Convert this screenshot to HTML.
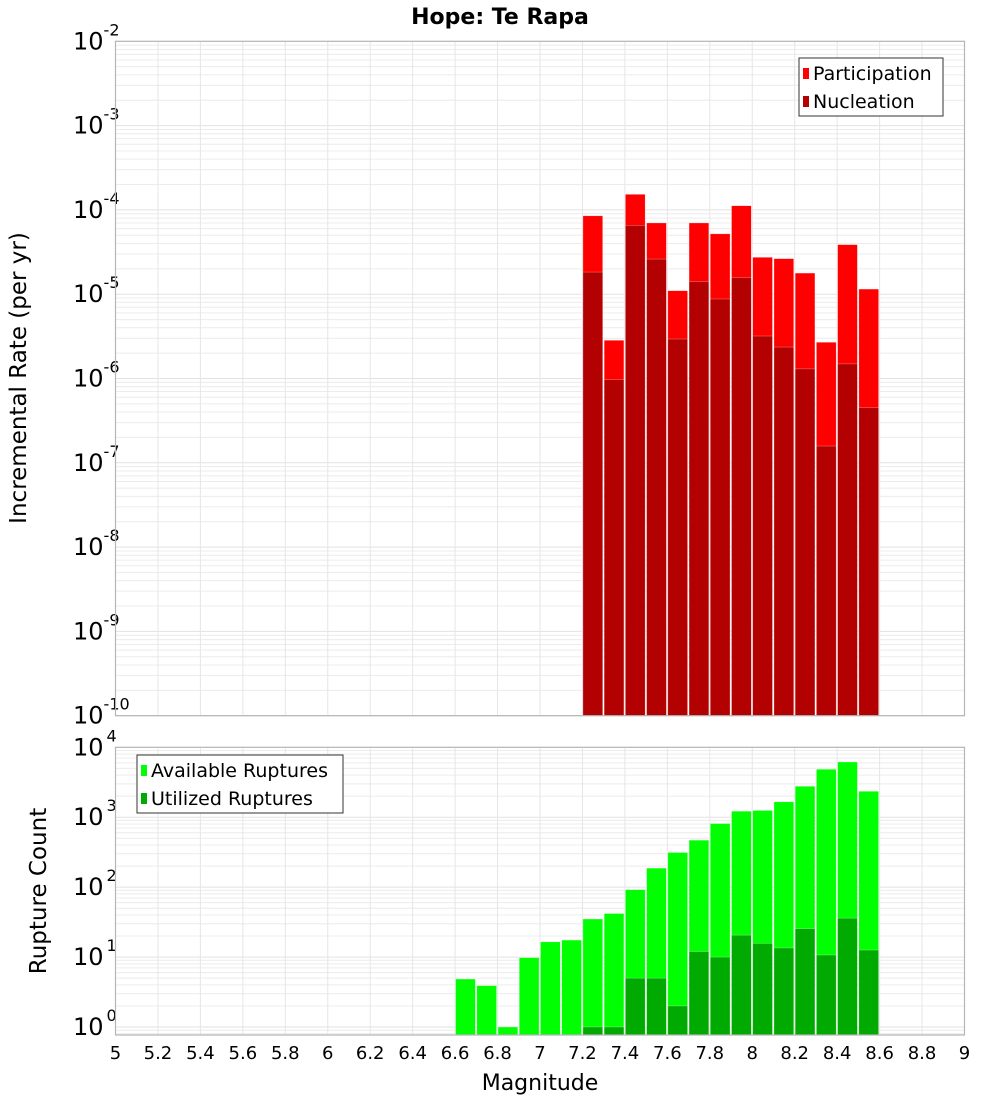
<!DOCTYPE html>
<html><head><meta charset="utf-8"><style>
html,body{margin:0;padding:0;background:#fff;}
svg{display:block;font-family:"DejaVu Sans","Liberation Sans",sans-serif;}
</style></head><body>
<svg id="chart" width="1000" height="1100" viewBox="0 0 1000 1100" xmlns="http://www.w3.org/2000/svg">
<text x="500" y="24" text-anchor="middle" font-size="22" font-weight="bold">Hope: Te Rapa</text>
<g id="top"></g>
<g id="bot"></g>
<text transform="translate(26,378) rotate(-90)" text-anchor="middle" font-size="23">Incremental Rate (per yr)</text>
<text transform="translate(46,891) rotate(-90)" text-anchor="middle" font-size="23">Rupture Count</text>
<text x="540" y="1090" text-anchor="middle" font-size="22">Magnitude</text>
</svg>
<script>
const rateMags = [7.25,7.35,7.45,7.55,7.65,7.75,7.85,7.95,8.05,8.15,8.25,8.35,8.45,8.55];
const participation = [8.5e-5,2.84e-6,1.53e-4,7.0e-5,1.1e-5,7.0e-5,5.2e-5,1.12e-4,2.74e-5,2.64e-5,1.78e-5,2.69e-6,3.87e-5,1.15e-5];
const nucleation = [1.83e-5,9.7e-7,6.56e-5,2.61e-5,2.94e-6,1.41e-5,8.77e-6,1.57e-5,3.19e-6,2.36e-6,1.30e-6,1.58e-7,1.49e-6,4.5e-7];
const countMags = [6.65,6.75,6.85,6.95,7.05,7.15,7.25,7.35,7.45,7.55,7.65,7.75,7.85,7.95,8.05,8.15,8.25,8.35,8.45,8.55];
const available = [4.85,3.9,1,9.8,16.5,17.5,35,42,92,187,313,470,813,1220,1250,1660,2770,4850,6170,2350];
const utilized = [0,0,0,0,0,0,1,1,5,5,2,12,10,20.6,15.7,13.5,25.4,10.7,36,12.6];
const xTicks = [5,5.2,5.4,5.6,5.8,6,6.2,6.4,6.6,6.8,7,7.2,7.4,7.6,7.8,8,8.2,8.4,8.6,8.8,9];
const xTickLabels = ["5","5.2","5.4","5.6","5.8","6","6.2","6.4","6.6","6.8","7","7.2","7.4","7.6","7.8","8","8.2","8.4","8.6","8.8","9"];
const rateDecades = [-10,-9,-8,-7,-6,-5,-4,-3,-2];
const countDecades = [0,1,2,3,4];

const NS="http://www.w3.org/2000/svg";
const X0=115.5,X1=964.5;
const xs=m=>X0+(m-5)/4*(X1-X0);
function mk(tag,attrs,parent){const e=document.createElementNS(NS,tag);for(const k in attrs)e.setAttribute(k,attrs[k]);parent.appendChild(e);return e;}

function panel(g,top,bot,lmin,lmax,decades,name){
  const ys=v=>bot-(Math.log10(v)-lmin)/(lmax-lmin)*(bot-top);
  const grid=mk('g',{},g);
  
  
  for(let d=Math.floor(lmin);d<lmax;d++){for(let k=1;k<10;k++){const y=ys(k*Math.pow(10,d));if(y<top-0.1||y>bot+0.1)continue;
    const l=mk('line',{x1:X0,x2:X1,y1:y,y2:y,stroke:k==1?'#e2e2e2':'#ececec','stroke-width':1},grid);
    }}
  xTicks.forEach(t=>{const l=mk('line',{x1:xs(t),x2:xs(t),y1:top,y2:bot,stroke:'#e6e6e6','stroke-width':1},grid);
    });
  decades.forEach(d=>{const y=ys(Math.pow(10,d));
    const t=mk('text',{x:73,y:y+8,'font-size':24},g);
    
    t.textContent='10';
    const s=mk('tspan',{'font-size':16,dy:-14,dx:d<0?0:3},t);s.textContent=String(d);});
  return ys;
}
function bars(g,mags,vals,ys,bot,fill,name){
  mags.forEach((m,i)=>{if(!(vals[i]>0))return;const y=Math.max(ys(vals[i]),0);
    const r=mk('rect',{x:xs(m-0.05)+0.5,y:y,width:xs(m+0.05)-xs(m-0.05)-1.5,height:bot-y,fill:fill,stroke:'#fff','stroke-opacity':0.5,'stroke-width':0.5},g);
    });
}
function legend(g,x,y,w,items,name){
  const lg=mk('g',{},g);
  mk('rect',{x:x,y:y,width:w,height:58,fill:'#fff',stroke:'#333','stroke-width':1},lg);
  items.forEach((it,i)=>{const e=mk('g',{},lg);
    mk('rect',{x:x+4,y:y+10+i*28,width:6,height:11,fill:it[1]},e);
    const t=mk('text',{x:x+14,y:y+22+i*28,'font-size':19},e);t.textContent=it[0];});
}
// top
const tg=document.getElementById('top');
const tT=41.3,tB=715.7;
const ysT=panel(tg,tT,tB,-10,-2,rateDecades,'rate');
bars(tg,rateMags,participation,ysT,tB,'#ff0000','participation-bar');
bars(tg,rateMags,nucleation,ysT,tB,'#b30000','nucleation-bar');
mk('rect',{x:X0,y:tT,width:X1-X0,height:tB-tT,fill:'none',stroke:'#b5b5b5','stroke-width':1.2},tg);
legend(tg,799,58,144,[['Participation','#ff0000'],['Nucleation','#b30000']],'rate-legend');
// bottom
const bg=document.getElementById('bot');
const bT=747.3,bB=1035;
const bmin=-(bB-1027)/70;
const ysB=panel(bg,bT,bB,bmin,4,countDecades,'count');
bars(bg,countMags,available,ysB,bB,'#00ff00','available-bar');
bars(bg,countMags,utilized,ysB,bB,'#00aa00','utilized-bar');
mk('rect',{x:X0,y:bT,width:X1-X0,height:bB-bT,fill:'none',stroke:'#b5b5b5','stroke-width':1.2},bg);
legend(bg,137,755,206,[['Available Ruptures','#00ff00'],['Utilized Ruptures','#00aa00']],'count-legend');
// x tick labels
xTicks.forEach((t,i)=>{const e=mk('text',{x:xs(t),y:1059,'text-anchor':'middle','font-size':18},bg);
  e.textContent=xTickLabels[i];});
</script>
</body></html>
